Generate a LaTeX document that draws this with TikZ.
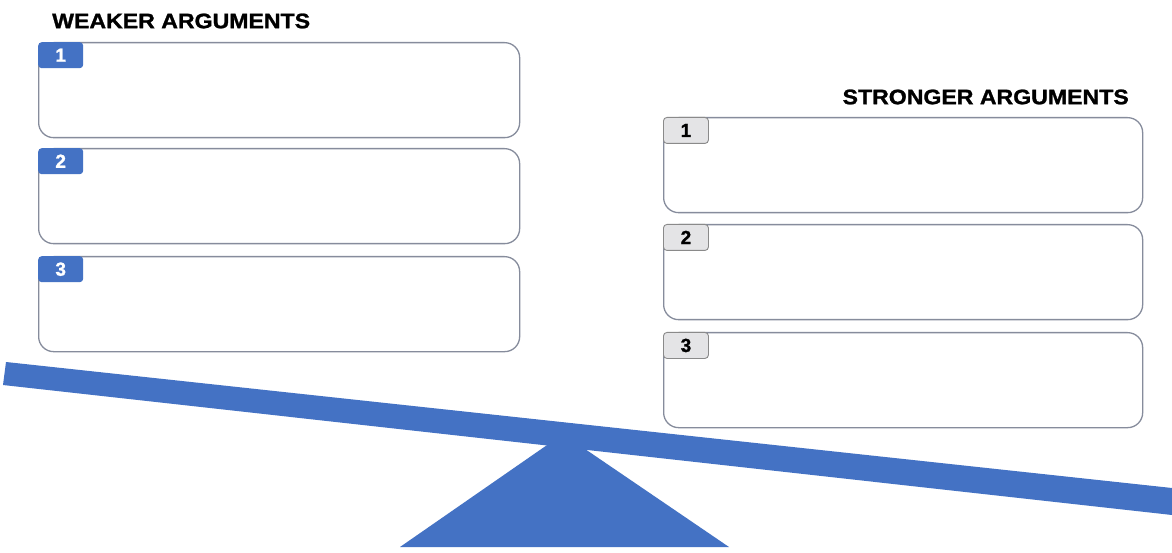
\documentclass[tikz,border=0pt]{standalone}
\usepackage{fontspec}
\setmainfont{Liberation Sans}
\newfontfamily\titlefont[FakeBold=1.2]{Liberation Sans Bold}
\definecolor{seeblue}{HTML}{4472C4}
\definecolor{boxgray}{HTML}{868C9C}
\definecolor{badgegray}{HTML}{E4E4E6}
\definecolor{badgeline}{HTML}{8A8A8A}
\begin{document}
\begin{tikzpicture}[x=1pt,y=1pt,
  argbox/.style={draw=boxgray, line width=1.3pt, rounded corners=15pt, fill=white,
    minimum width=481pt, minimum height=95pt, inner sep=0pt, anchor=north west},
  badgebase/.style={rounded corners=3.5pt, minimum width=45pt, minimum height=26pt,
    inner sep=0pt, anchor=north west, font=\fontsize{19}{19}\selectfont\titlefont},
  bluebadge/.style={badgebase, fill=seeblue, text=white},
  graybadge/.style={badgebase, fill=badgegray, draw=badgeline, line width=0.9pt, text=black},
  title/.style={font=\fontsize{21}{21}\selectfont\titlefont, xscale=1.1, inner sep=0pt}
]
\useasboundingbox (0,0) rectangle (1172,552);
\fill[white] (0,0) rectangle (1172,552);

% titles
\node[title, anchor=west] (wt) at (52,531) {WEAKER ARGUMENTS};
\node[title, anchor=east] (st) at (1129,455) {STRONGER ARGUMENTS};

% left boxes
\node[argbox] (w1) at (38,510) {};
\node[argbox] (w2) at (38,404) {};
\node[argbox] (w3) at (38,296) {};
\node[bluebadge] (wb1) at (w1.north west) {1};
\node[bluebadge] (wb2) at (w2.north west) {2};
\node[bluebadge] (wb3) at (w3.north west) {3};

% right boxes
\node[argbox, minimum width=479pt] (s1) at (663,435) {};
\node[argbox, minimum width=479pt] (s2) at (663,328) {};
\node[argbox, minimum width=479pt] (s3) at (663,220) {};
\node[graybadge] (sb1) at (s1.north west) {1};
\node[graybadge] (sb2) at (s2.north west) {2};
\node[graybadge] (sb3) at (s3.north west) {3};

% fulcrum and beam
\fill[seeblue] (400,5) -- (563,118) -- (729,5) -- cycle;
\fill[seeblue] (6,190) -- (1172,64) -- (1172,37) -- (3,167) -- cycle;
\end{tikzpicture}
\end{document}
